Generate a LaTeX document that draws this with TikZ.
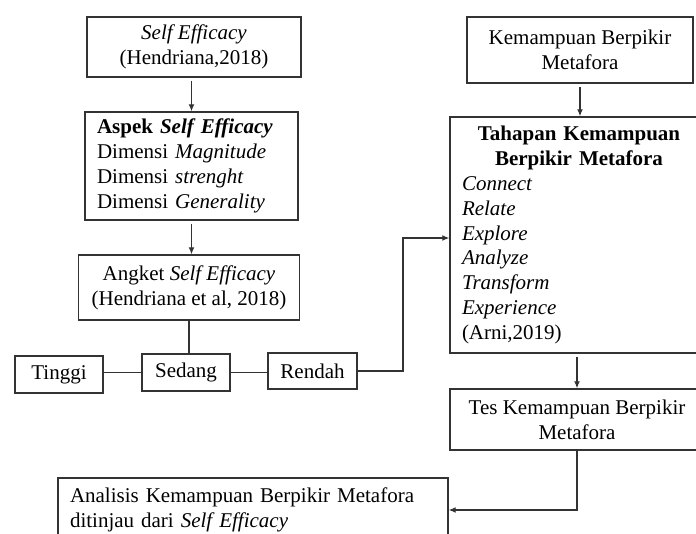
\documentclass[tikz,border=0pt]{standalone}
\usepackage{fontspec}
\setmainfont{Liberation Serif}
\usetikzlibrary{arrows.meta}
\begin{document}
\begin{tikzpicture}[x=1pt,y=-1pt,
  box/.style={draw=black!80, line width=1.4pt, inner xsep=0pt, inner ysep=2pt, align=center,
    font=\fontsize{21}{24.8}\selectfont},
  lbox/.style={draw=black!80, line width=1.4pt, inner xsep=12pt, inner ysep=3pt, align=left,
    font=\fontsize{21}{24.8}\selectfont},
  conn/.style={draw=black!80, line width=1.3pt},
  arr/.style={conn, -{Latex[length=7pt,width=6pt]}}]
\useasboundingbox (0,0) rectangle (696,534);
\clip (0,0) rectangle (696,534);
% left column
\node[box, minimum width=214pt, minimum height=60pt] (se) at (194,47)
  {\textit{Self Efficacy}\\(Hendriana,2018)};
\node[lbox, text width=189pt, minimum height=108pt] (aspek) at (191.5,166)
  {\textbf{Aspek \textit{Self Efficacy}}\\Dimensi \textit{Magnitude}\\Dimensi \textit{strenght}\\Dimensi \textit{Generality}};
\node[box, minimum width=221pt, minimum height=65pt] (angket) at (189,287.5)
  {Angket \textit{Self Efficacy}\\(Hendriana et al, 2018)};
\node[box, minimum width=88pt, minimum height=37pt] (tinggi) at (59,374.5) {Tinggi};
\node[box, minimum width=88pt, minimum height=37pt] (sedang) at (186,372.5) {Sedang};
\node[box, minimum width=89pt, minimum height=36pt] (rendah) at (312.5,371) {Rendah};
% right column
\node[box, minimum width=226pt, minimum height=66pt] (kbm) at (580,50)
  {Kemampuan Berpikir\\Metafora};
\node[draw=black!80, line width=1.4pt, inner xsep=12pt, inner ysep=3pt, text width=234pt,
  minimum height=236pt, font=\fontsize{21}{24.8}\selectfont] (tahapan) at (579,235)
  {\centering\textbf{Tahapan Kemampuan}\par\textbf{Berpikir Metafora}\par
   \raggedright\textit{Connect}\par\textit{Relate}\par\textit{Explore}\par\textit{Analyze}\par
   \textit{Transform}\par\textit{Experience}\par(Arni,2019)\par};
\node[box, minimum width=254pt, minimum height=61pt] (tes) at (577,419.5)
  {Tes Kemampuan Berpikir\\Metafora};
\node[lbox, text width=366pt, minimum height=64pt] (analisis) at (253,510)
  {Analisis Kemampuan Berpikir Metafora\\ditinjau dari \textit{Self Efficacy}};
\coordinate (bend) at (403,238);
% connectors
\draw[arr, shorten <=3pt] (aspek.north |- se.south) -- (aspek.north);
\draw[arr, shorten <=3pt] (aspek.south) -- (aspek.south |- angket.north);
\draw[conn] (angket.south) -- (angket.south |- sedang.north);
\draw[conn] (tinggi.east |- sedang.west) -- (sedang.west);
\draw[conn] (sedang.east) -- (sedang.east -| rendah.west);
\draw[arr] (rendah.east) -| (bend) -- (bend -| tahapan.west);
\draw[arr, shorten <=3pt] (kbm.south) -- (kbm.south |- tahapan.north);
\draw[arr, shorten <=3pt] (tes.north |- tahapan.south) -- (tes.north);
\draw[arr] (tes.south) |- (analisis.east);
\end{tikzpicture}
\end{document}
